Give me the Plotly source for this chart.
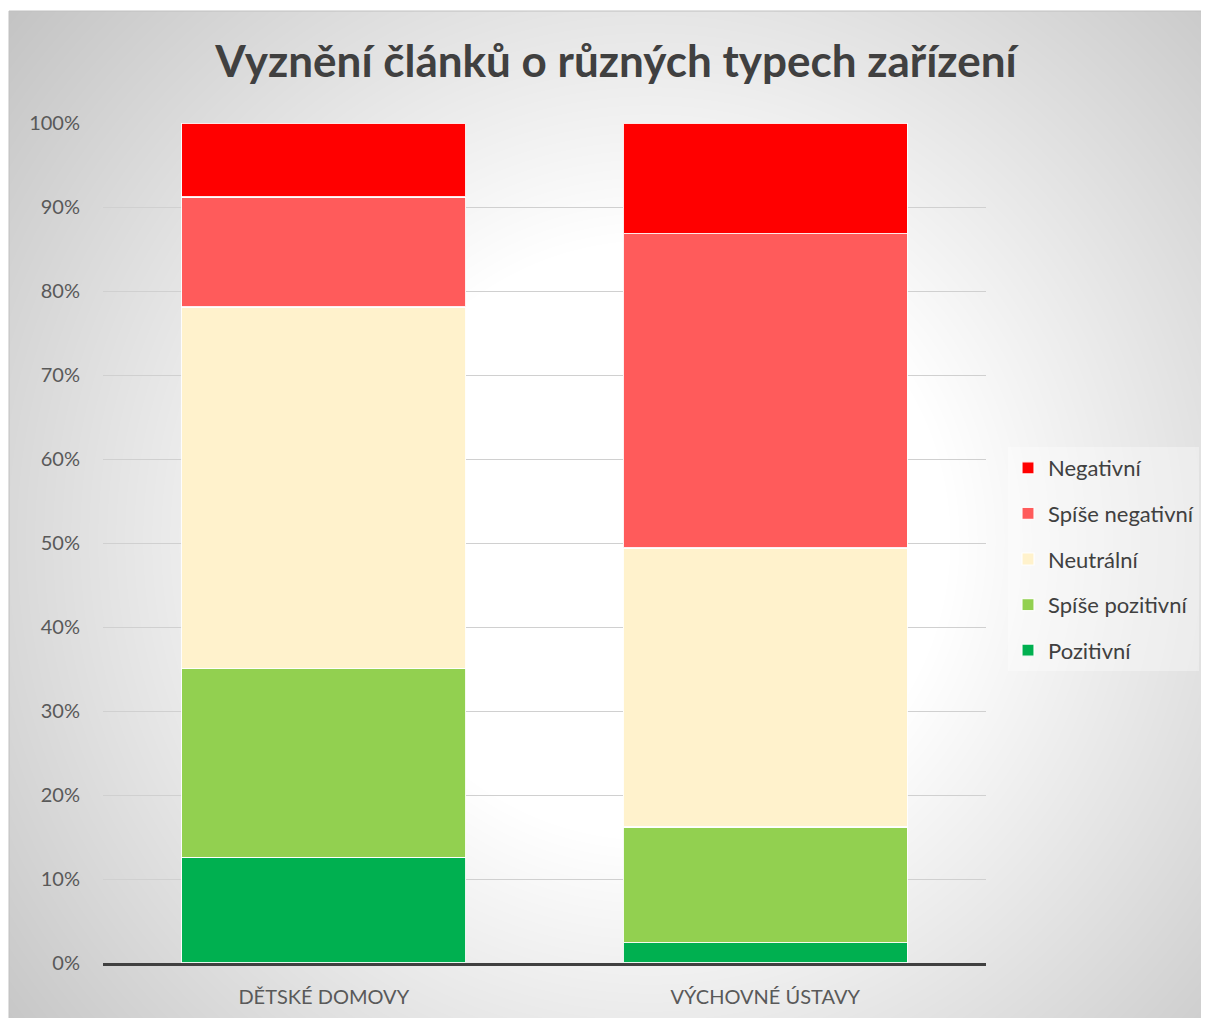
import base64, struct, zlib
import numpy as np
import plotly.graph_objects as go

categories = ["DĚTSKÉ DOMOVY", "VÝCHOVNÉ ÚSTAVY"]
series_names = ["Pozitivní", "Spíše pozitivní", "Neutrální", "Spíše negativní", "Negativní"]
pozitivni = [0.126, 0.024]
spise_pozitivni = [0.225, 0.138]
neutralni = [0.430, 0.332]
spise_negativni = [0.131, 0.374]
negativni = [0.088, 0.132]
series_values = [pozitivni, spise_pozitivni, neutralni, spise_negativni, negativni]
colors = ["#00B050", "#92D050", "#FFF2CC", "#FF5B5B", "#FF0000"]
y_ticks = [i / 10 for i in range(11)]
y_tick_labels = [f"{i*10}%" for i in range(11)]

OFF = 8  # page body margin
W, H = 1209, 1018
ml, mr, mt, mb = 103 - OFF, W - (986 - OFF), 123 - OFF, H - (963 - OFF)
pw, ph = W - ml - mr, H - mt - mb

def px2x(p):
    return (p - OFF - ml) / pw
def py2y(p):
    return (H - mb - (p - OFF)) / ph

# radial gradient background image (chart area), screen coords
bx0, by0, bx1, by1 = 9, 11, 1220, 1030
gw, gh = bx1 - bx0, by1 - by0
xs = np.arange(gw) + bx0
ys = np.arange(gh) + by0
X, Y = np.meshgrid(xs, ys)
d = np.sqrt((X - 650.0) ** 2 + (Y - 540.0) ** 2)
v = 255 - 0.111 * np.clip(d - 300, 0, None)
v = np.clip(v, 0, 255).astype(np.uint8)
img = np.stack([v, v, v], axis=-1)
raw = b"".join(b"\x00" + img[r].tobytes() for r in range(gh))
def chunk(t, data):
    c = struct.pack(">I", len(data)) + t + data
    return c + struct.pack(">I", zlib.crc32(t + data) & 0xffffffff)
png = b"\x89PNG\r\n\x1a\n" + chunk(b"IHDR", struct.pack(">IIBBBBB", gw, gh, 8, 2, 0, 0, 0)) \
      + chunk(b"IDAT", zlib.compress(raw, 9)) + chunk(b"IEND", b"")
src = "data:image/png;base64," + base64.b64encode(png).decode()

fig = go.Figure()
n = len(series_names)
for i, (name, vals) in enumerate(zip(series_names, series_values)):
    fig.add_trace(go.Bar(
        x=categories, y=vals, name=name,
        marker=dict(color=colors[i], line=dict(color="rgba(255,255,255,0.9)", width=1.2)),
        legendgroup=name, legendrank=n - i,
    ))

fig.update_layout(
    width=W, height=H,
    margin=dict(l=ml, r=mr, t=mt, b=mb),
    barmode="stack", bargap=0.357,
    paper_bgcolor="white", plot_bgcolor="rgba(0,0,0,0)",
    font=dict(family="Lato, Open Sans, sans-serif", color="#595959"),
    title=dict(text="<b>Vyznění článků o různých typech zařízení</b>",
               x=(616 - OFF) / W, xanchor="center", y=1 - (62 - OFF) / H, yanchor="middle",
               font=dict(size=44, color="#404040", family="Lato, sans-serif")),
    legend=dict(x=px2x(1008), y=py2y(447), xanchor="left", yanchor="top",
                traceorder="grouped", tracegroupgap=14,
                bgcolor="rgba(255,255,255,0.35)", font=dict(size=22, color="#404040"),
                itemwidth=30),
    images=[dict(source=src, xref="paper", yref="paper",
                 x=px2x(bx0), y=py2y(by0), sizex=gw / pw, sizey=gh / ph,
                 xanchor="left", yanchor="top", sizing="stretch", layer="below")],
    shapes=[dict(type="rect", xref="paper", yref="paper",
                 x0=px2x(bx0), x1=px2x(bx1 + 2), y0=py2y(by1 + 2), y1=py2y(by0),
                 line=dict(color="#c0c0c0", width=1), fillcolor="rgba(0,0,0,0)", layer="below")],
    showlegend=True,
)
fig.update_yaxes(range=[0, 1], tickvals=y_ticks, ticktext=y_tick_labels,
                 showgrid=True, gridcolor="#d0d0d0", gridwidth=1, zeroline=False,
                 showline=False, ticklabelstandoff=22, tickfont=dict(size=20, color="#595959"))
fig.update_xaxes(showline=True, linecolor="#404040", linewidth=3, showgrid=False,
                 ticklabelstandoff=14, tickfont=dict(size=20, color="#595959"))

fig.write_html("out.html", post_script="document.documentElement.style.overflow='hidden';document.body.style.overflow='hidden';")
